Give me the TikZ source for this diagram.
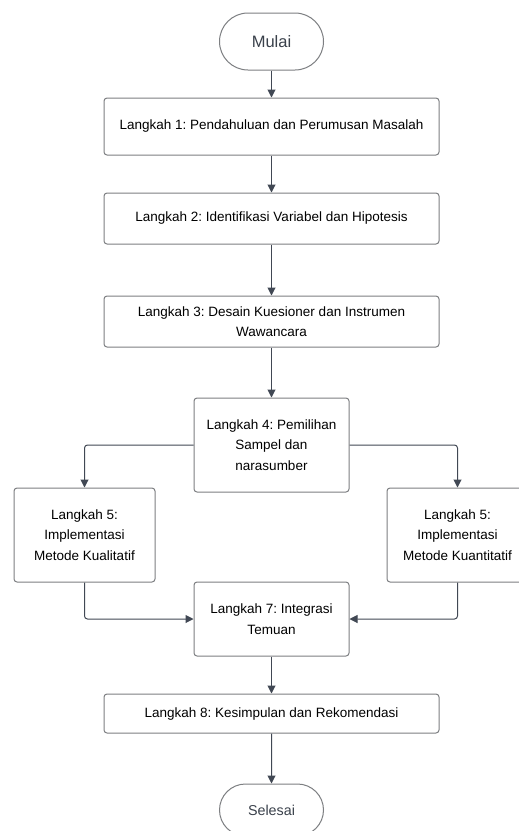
\documentclass[tikz,border=0pt]{standalone}
\usepackage{fontspec}
\setmainfont{Liberation Sans}
\frenchspacing
\usetikzlibrary{arrows.meta,shapes.misc}
\definecolor{bordergray}{HTML}{7D7F82}
\definecolor{arrowgray}{HTML}{414854}
\definecolor{termtext}{HTML}{3A414B}
\tikzset{
  stepbox/.style={draw=bordergray, line width=1pt, rounded corners=3pt, fill=white,
    align=center, inner sep=0pt, font=\fontsize{13.5}{20.5}\selectfont\frenchspacing, text=black},
  term/.style={draw=bordergray, line width=1pt, rounded rectangle, fill=white,
    inner sep=0pt, text=termtext},
  arr/.style={draw=arrowgray, line width=1pt, rounded corners=3pt,
    -{Triangle[length=8pt,width=8pt]}},
}
\begin{document}
\begin{tikzpicture}[x=1pt,y=-1pt]
\useasboundingbox (0,0) rectangle (519,831);
\fill[white] (0,0) rectangle (519,831);
\node[term, minimum width=104pt, minimum height=57pt, font=\fontsize{16.5}{20}\selectfont] (mulai) at (271.5,41.5) {Mulai};
\node[stepbox, minimum width=335pt, minimum height=57pt] (b1) at (271.5,126.5) {Langkah 1: Pendahuluan dan Perumusan Masalah};
\node[stepbox, minimum width=335pt, minimum height=51pt] (b2) at (271.5,218.5) {Langkah 2: Identifikasi Variabel dan Hipotesis};
\node[stepbox, minimum width=335pt, minimum height=51pt] (b3) at (271.5,321.5) {Langkah 3: Desain Kuesioner dan Instrumen\\Wawancara};
\node[stepbox, minimum width=155pt, minimum height=94pt] (b4) at (271.5,445) {Langkah 4: Pemilihan\\Sampel dan\\narasumber};
\node[stepbox, minimum width=141pt, minimum height=94pt] (b5l) at (84.5,535) {Langkah 5:\\Implementasi\\Metode Kualitatif};
\node[stepbox, minimum width=141pt, minimum height=94pt] (b5r) at (457.5,535) {Langkah 5:\\Implementasi\\Metode Kuantitatif};
\node[stepbox, minimum width=155pt, minimum height=74pt] (b7) at (271.5,619) {Langkah 7: Integrasi\\Temuan};
\node[stepbox, minimum width=335pt, minimum height=39pt] (b8) at (271.5,713.5) {Langkah 8: Kesimpulan dan Rekomendasi};
\node[term, minimum width=104pt, minimum height=52pt, font=\fontsize{14.3}{18}\selectfont] (selesai) at (271.5,810) {Selesai};
\draw[arr] (mulai) -- (b1);
\draw[arr] (b1) -- (b2);
\draw[arr] (b2) -- (b3);
\draw[arr] (b3) -- (b4);
\draw[arr] (b4.west) -| (b5l.north);
\draw[arr] (b4.east) -| (b5r.north);
\draw[arr] (b5l.south) |- (b7.west);
\draw[arr] (b5r.south) |- (b7.east);
\draw[arr] (b7) -- (b8);
\draw[arr] (b8) -- (selesai);
\end{tikzpicture}
\end{document}
